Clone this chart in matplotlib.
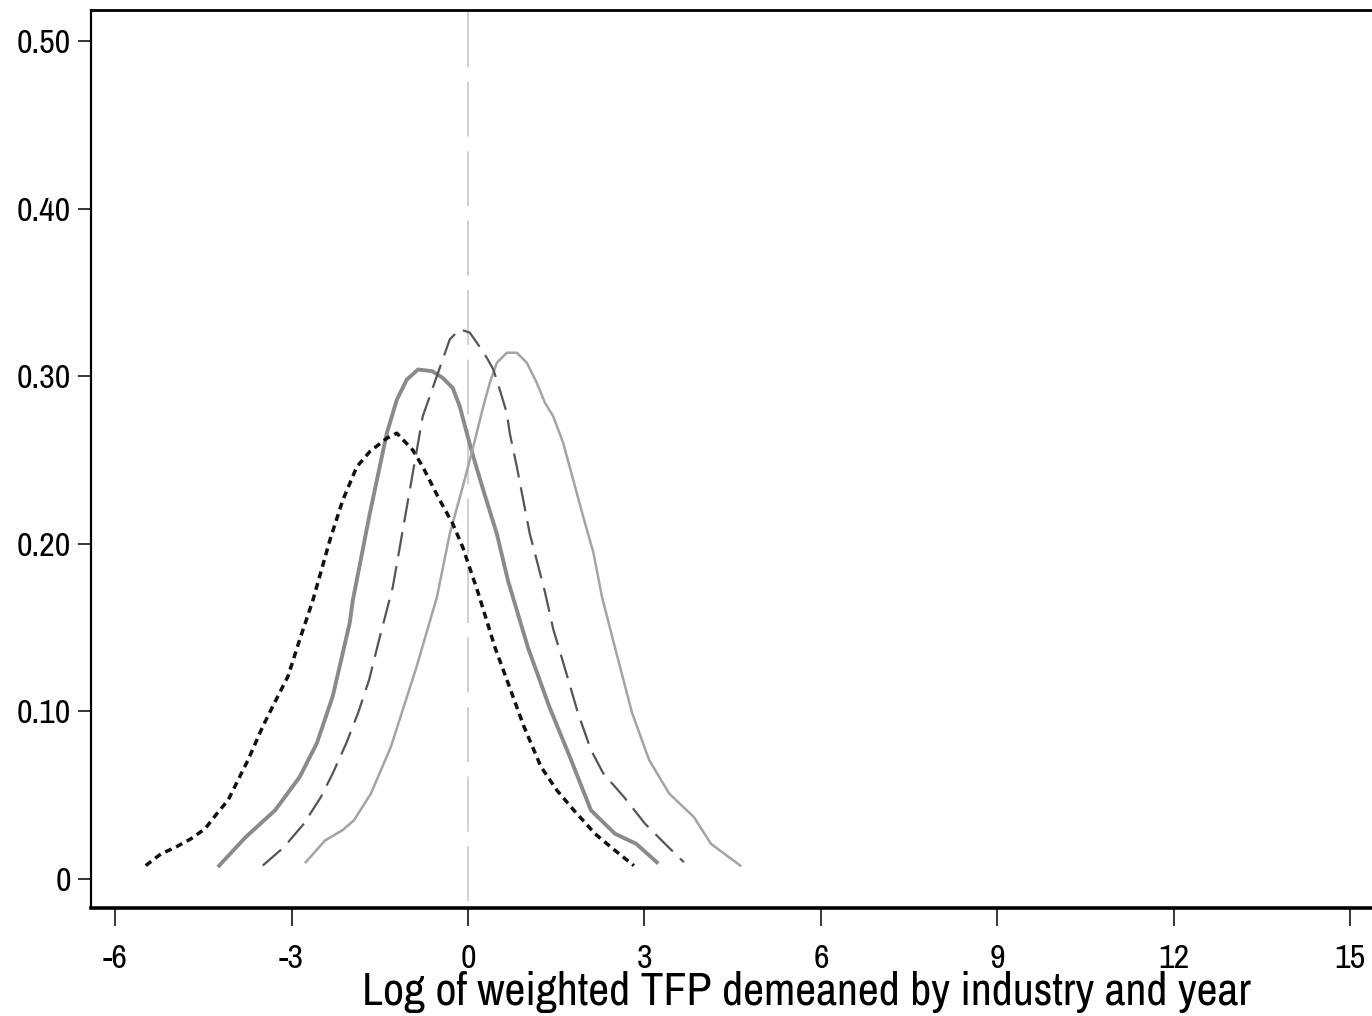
import matplotlib
matplotlib.use("Agg")
import matplotlib.pyplot as plt
from matplotlib import font_manager

# ---- data ----
x1 = [-5.48, -5.22, -4.97, -4.71, -4.47, -4.27, -4.08, -3.91, -3.74, -3.49, -3.32, -3.06,
      -2.86, -2.64, -2.35, -2.13, -1.89, -1.67, -1.38, -1.21, -0.94, -0.77, -0.48, -0.26,
      -0.09, 0.17, 0.46, 0.68, 0.95, 1.24, 1.51, 1.80, 2.16, 2.43, 2.82]
y1 = [0.008, 0.015, 0.019, 0.024, 0.030, 0.039, 0.047, 0.059, 0.071, 0.091, 0.103, 0.121,
      0.143, 0.166, 0.202, 0.226, 0.246, 0.255, 0.263, 0.266, 0.256, 0.246, 0.226, 0.212,
      0.198, 0.171, 0.138, 0.117, 0.091, 0.067, 0.053, 0.041, 0.027, 0.019, 0.008]

x2 = [-4.23, -3.78, -3.28, -2.86, -2.57, -2.30, -2.01, -1.96, -1.67, -1.38, -1.21, -1.04,
      -0.85, -0.61, -0.43, -0.26, -0.14, -0.02, 0.09, 0.26, 0.49, 0.68, 1.02, 1.38, 1.73,
      2.09, 2.50, 2.86, 3.21]
y2 = [0.008, 0.025, 0.041, 0.061, 0.081, 0.109, 0.153, 0.166, 0.218, 0.266, 0.286, 0.298,
      0.304, 0.303, 0.299, 0.293, 0.282, 0.266, 0.252, 0.232, 0.206, 0.178, 0.138, 0.103,
      0.073, 0.041, 0.027, 0.021, 0.010]

x3 = [-3.49, -3.13, -2.79, -2.50, -2.30, -2.07, -1.87, -1.68, -1.51, -1.28, -1.04, -0.87,
      -0.77, -0.65, -0.53, -0.43, -0.31, -0.14, 0.03, 0.15, 0.32, 0.43, 0.54, 0.66, 0.71,
      0.83, 0.94, 1.05, 1.17, 1.31, 1.45, 1.67, 1.87, 2.09, 2.30, 2.65, 3.01, 3.35, 3.67]
y3 = [0.008, 0.019, 0.033, 0.049, 0.063, 0.081, 0.099, 0.119, 0.143, 0.174, 0.222, 0.256,
      0.276, 0.288, 0.300, 0.310, 0.322, 0.328, 0.326, 0.320, 0.311, 0.304, 0.292, 0.278,
      0.266, 0.246, 0.226, 0.206, 0.190, 0.171, 0.149, 0.123, 0.099, 0.077, 0.063, 0.049,
      0.033, 0.021, 0.010]

x4 = [-2.76, -2.43, -2.14, -1.94, -1.65, -1.31, -0.88, -0.53, -0.31, -0.09, 0.09, 0.26,
      0.37, 0.49, 0.66, 0.83, 1.00, 1.17, 1.31, 1.45, 1.62, 1.79, 1.96, 2.13, 2.28, 2.50,
      2.79, 3.08, 3.42, 3.84, 4.13, 4.63]
y4 = [0.010, 0.023, 0.029, 0.035, 0.051, 0.079, 0.126, 0.168, 0.206, 0.234, 0.258, 0.282,
      0.296, 0.308, 0.314, 0.314, 0.308, 0.296, 0.284, 0.276, 0.260, 0.238, 0.216, 0.195,
      0.168, 0.138, 0.099, 0.071, 0.051, 0.037, 0.021, 0.008]

ref_x = 0
xticks = [-6, -3, 0, 3, 6, 9, 12, 15]
yticks = [0, 0.10, 0.20, 0.30, 0.40, 0.50]
ytick_labels = ["0", "0.10", "0.20", "0.30", "0.40", "0.50"]
xlabel = "Log of weighted TFP demeaned by industry and year"

# ---- font: an Arial-Narrow-like condensed sans ----
names = {f.name for f in font_manager.fontManager.ttflist}
fam = "Liberation Sans"
for cand in ["Liberation Sans Narrow", "Arial Narrow", "Nimbus Sans Narrow",
             "Archivo Narrow", "PT Sans Narrow", "Roboto Condensed"]:
    if cand in names:
        fam = cand
        break
plt.rcParams["font.family"] = [fam, "DejaVu Sans"]

W, H = 1372, 1016
fig = plt.figure(figsize=(W / 100, H / 100), dpi=100)
ax = fig.add_axes([91 / W, (H - 908) / H, 1 - 91 / W, (908 - 10) / H])

# vertical reference line at x = 0, dash pattern starting from the top
ax.plot([ref_x, ref_x], [0.998, 0.0], transform=ax.get_xaxis_transform(),
        color="#c4c4c4", lw=1.1, linestyle=(0, (36, 9.5)), zorder=1)

ax.plot(x1, y1, color="#111111", lw=2.5, linestyle=(0, (2.0, 1.45)), zorder=3)
ax.plot(x2, y2, color="#8a8a8a", lw=2.8, linestyle="-", zorder=2)
ax.plot(x3, y3, color="#555555", lw=1.6, linestyle=(0, (11, 4.5)), zorder=3)
ax.plot(x4, y4, color="#a4a4a4", lw=1.8, linestyle="-", zorder=2)

ax.set_xlim(-6.41, 15.37)
ax.set_ylim(-0.0173, 0.5185)

ax.set_xticks(xticks)
ax.set_xticklabels([str(t) for t in xticks])
ax.set_yticks(yticks)
ax.set_yticklabels(ytick_labels)

ax.spines["right"].set_visible(False)
ax.spines["left"].set_linewidth(1.6)
ax.spines["top"].set_linewidth(2.0)
ax.spines["bottom"].set_linewidth(2.6)

ax.tick_params(axis="x", direction="out", length=13, width=1.1, pad=13, labelsize=24.5)
ax.tick_params(axis="y", direction="out", length=9.5, width=1.1, pad=5, labelsize=24.5)

fig.text(806 / W, (H - 1005) / H, xlabel, ha="center", va="baseline", fontsize=33)

fig.savefig("out.png", dpi=100)
